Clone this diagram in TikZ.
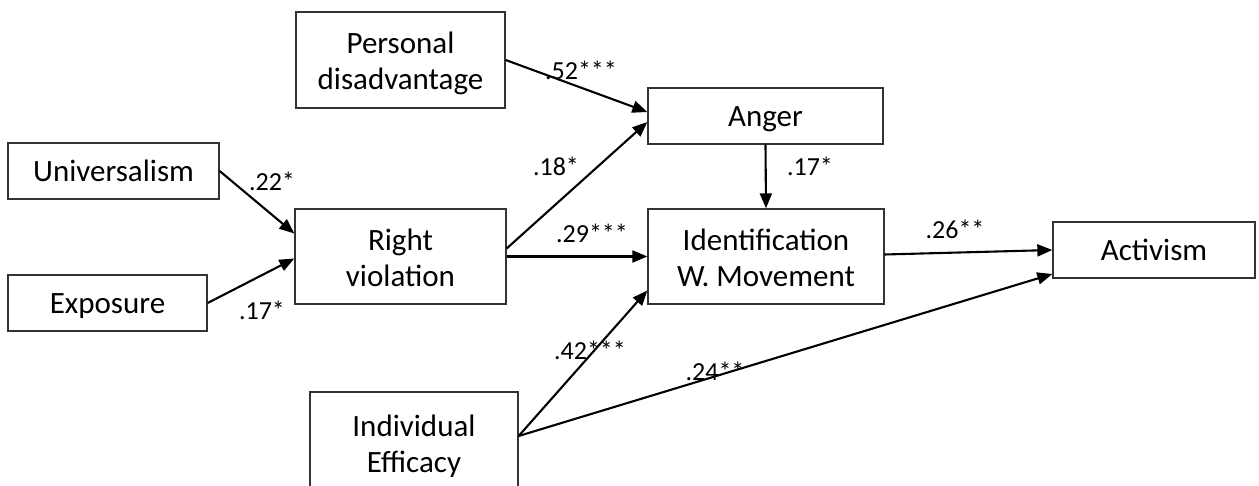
\documentclass[tikz,border=0pt]{standalone}
\usepackage{fontspec}
\setmainfont{Carlito}
\usetikzlibrary{arrows.meta}
\begin{document}
\begin{tikzpicture}[x=1pt,y=-1pt,
  box/.style={draw=black!80, line width=1.3pt, rectangle, inner sep=0pt, align=center, font=\fontsize{31}{36}\selectfont},
  one/.style={text height=22pt, text depth=0pt},
  two/.style={text height=60pt, text depth=0pt},
  conn/.style={line width=2.1pt, -{Triangle[length=15pt,width=12pt]}},
  lab/.style={font=\fontsize{26}{30}\selectfont, inner sep=0pt}]
\clip (0,0) rectangle (1259,486);
\fill[white] (0,0) rectangle (1259,486);
\node[box, two, minimum width=209, minimum height=96] (pd) at (400.5,60) {Personal\\disadvantage};
\node[box, one, minimum width=235, minimum height=56] (anger) at (765.5,116) {Anger};
\node[box, one, minimum width=211, minimum height=56] (univ) at (113.5,171) {Universalism};
\node[box, one, minimum width=199, minimum height=56] (expo) at (107.5,303) {Exposure};
\node[box, two, minimum width=211, minimum height=95] (rv) at (400.5,256.5) {Right\\violation};
\node[box, two, minimum width=236, minimum height=95] (id) at (766,256.5) {Identification\\W. Movement};
\node[box, one, minimum width=202, minimum height=56] (act) at (1154,250) {Activism};
\node[box, two, minimum width=208, minimum height=100] (ie) at (414,442) {Individual\\Efficacy};

\draw[conn] (pd.east) -- ([yshift=4pt]anger.west);
\draw[conn] ([yshift=8pt]rv.east) -- ([yshift=-6pt]anger.west);
\draw[conn] (rv.east) -- (id.west);
\draw[conn] (anger.south) -- (id.north);
\draw[conn] ([yshift=2pt]id.east) -- (act.west);
\draw[conn] (univ.east) -- ([yshift=23pt]rv.west);
\draw[conn] (expo.east) -- ([yshift=-2pt]rv.west);
\draw[conn] ([yshift=6pt]ie.east) -- ([yshift=-34pt]id.west);
\draw[conn] ([yshift=6pt]ie.east) -- ([yshift=-24pt]act.west);

\node[lab] (l1) at (581,70) {.52***};
\node[lab] (l2) at (556,166) {.18*};
\node[lab] (l3) at (810,166) {.17*};
\node[lab] (l4) at (272,181) {.22*};
\node[lab] (l5) at (262,310) {.17*};
\node[lab] (l6) at (592,233) {.29***};
\node[lab] (l7) at (955,229) {.26**};
\node[lab] (l8) at (590,350) {.42***};
\node[lab] (l9) at (715,371) {.24**};
\end{tikzpicture}
\end{document}
